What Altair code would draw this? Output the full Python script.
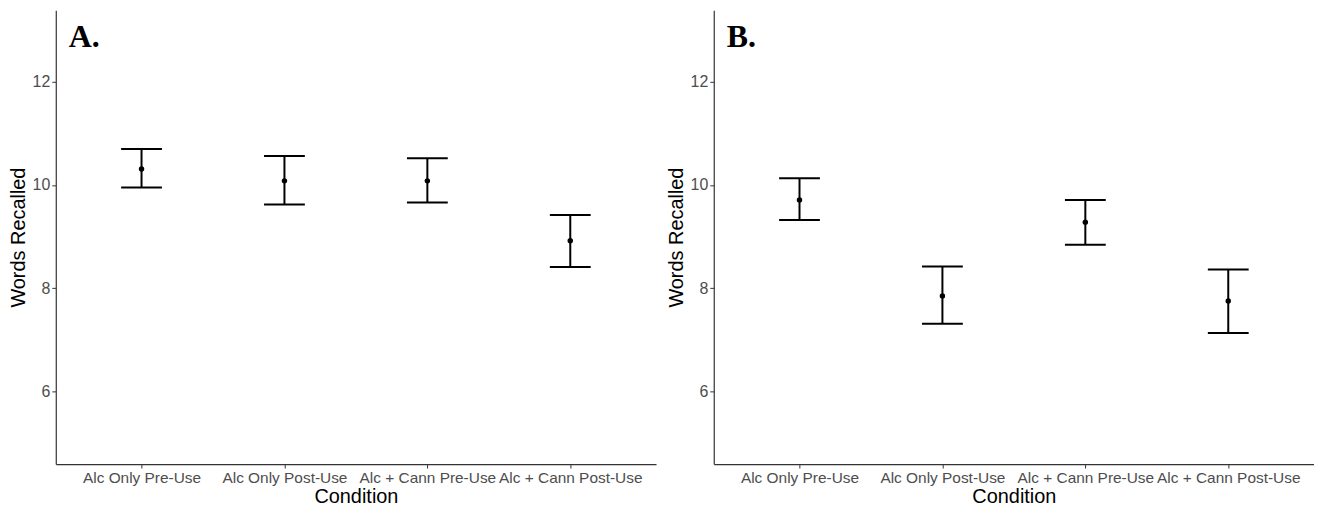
import altair as alt
import pandas as pd

conditions = ["Alc Only Pre-Use", "Alc Only Post-Use", "Alc + Cann Pre-Use", "Alc + Cann Post-Use"]

a_mean = [10.31, 10.08, 10.08, 8.92]
a_lo = [9.95, 9.62, 9.66, 8.41]
a_hi = [10.70, 10.56, 10.52, 9.42]

b_mean = [9.71, 7.85, 9.28, 7.75]
b_lo = [9.32, 7.31, 8.84, 7.13]
b_hi = [10.13, 8.42, 9.71, 8.36]

panel_labels = ["A.", "B."]
y_ticks = [6, 8, 10, 12]
y_domain = [4.59, 13.39]

W = 603
H = 456


def panel(means, los, his, label):
    df = pd.DataFrame({"cond": conditions, "mean": means, "lo": los, "hi": his})
    yscale = alt.Scale(domain=y_domain, nice=False, zero=False)
    base = alt.Chart(df).encode(
        x=alt.X(
            "cond:N",
            sort=conditions,
            scale=alt.Scale(type="point", padding=0.6),
            axis=alt.Axis(
                title="Condition",
                labelAngle=0,
                labelOverlap=False,
                labelPadding=3,
                titlePadding=0,
            ),
        )
    )
    rule = base.mark_rule(strokeWidth=2, color="black").encode(
        y=alt.Y(
            "lo:Q",
            scale=yscale,
            axis=alt.Axis(title="Words Recalled", values=y_ticks, grid=False, titlePadding=4, labelPadding=2),
        ),
        y2="hi:Q",
    )
    cap_lo = base.mark_tick(size=41, thickness=2, color="black", opacity=1).encode(
        y=alt.Y("lo:Q", scale=yscale)
    )
    cap_hi = base.mark_tick(size=41, thickness=2, color="black", opacity=1).encode(
        y=alt.Y("hi:Q", scale=yscale)
    )
    pts = base.mark_point(filled=True, size=30, color="black", opacity=1).encode(
        y=alt.Y("mean:Q", scale=yscale)
    )
    txt = alt.Chart(pd.DataFrame({"lab": [label]})).mark_text(
        font="Liberation Serif",
        fontWeight="bold",
        fontSize=32,
        align="left",
        baseline="alphabetic",
        color="black",
    ).encode(text="lab:N", x=alt.value(13), y=alt.value(37))
    return alt.layer(rule, cap_lo, cap_hi, pts, txt).properties(width=W, height=H)


chart = (
    alt.hconcat(
        panel(a_mean, a_lo, a_hi, panel_labels[0]),
        panel(b_mean, b_lo, b_hi, panel_labels[1]),
        spacing=10,
    )
    .properties(padding={"left": 0, "top": 1, "right": 0, "bottom": 0})
    .configure_view(stroke=None)
    .configure_axis(
        labelFont="Liberation Sans",
        titleFont="Liberation Sans",
        labelFontSize=16,
        titleFontSize=20,
        labelColor="#4d4d4d",
        titleColor="black",
        titleFontWeight="normal",
        domainColor="#333333",
        domainWidth=1.2,
        tickColor="#333333",
        tickSize=4,
    )
    .configure_axisX(labelFontSize=15.5)
)

chart.save("out.html", embed_options={"renderer": "svg", "actions": False})
